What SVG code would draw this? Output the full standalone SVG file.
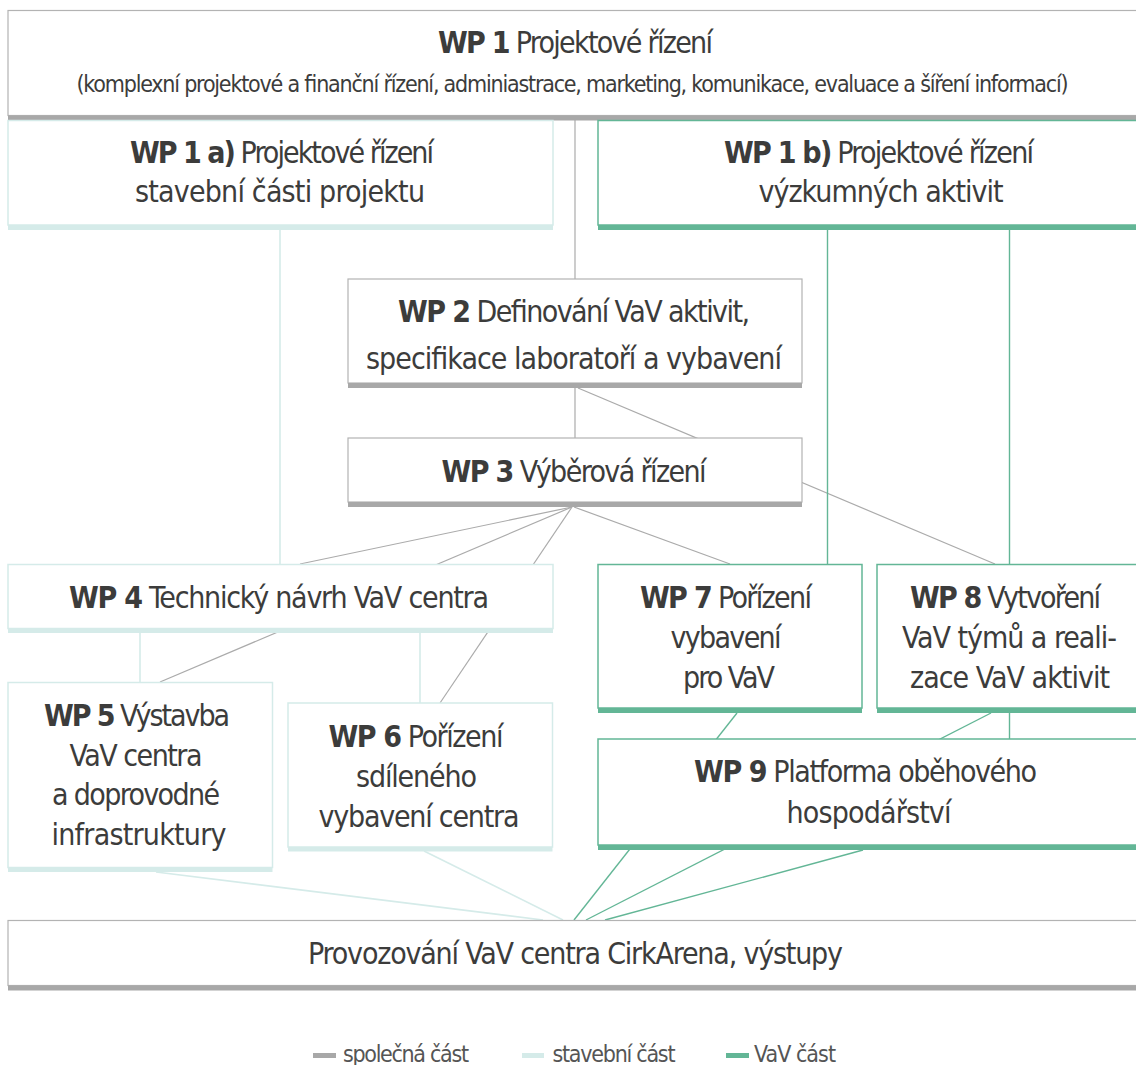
<svg xmlns="http://www.w3.org/2000/svg" width="1136" height="1065" viewBox="0 0 1136 1065">
<style>
  text { font-family: "Liberation Sans Narrow", "DejaVu Sans Condensed", "Liberation Sans", sans-serif; font-size: 30px; fill: #3c3c3b; text-anchor: middle; }
  .b { font-weight: 700; }
  .sub { font-size: 23px; }
  .lg { font-size: 23px; text-anchor: start; fill: #555555; }
  .bg { fill: #ffffff; stroke: #b3b3b3; stroke-width: 1.2; }
  .bl { fill: #ffffff; stroke: #d5ebe9; stroke-width: 1.5; }
  .bt { fill: #ffffff; stroke: #63b696; stroke-width: 1.5; }
  .sg { fill: #a8a8a8; }
  .sl { fill: #d5ebe9; }
  .st { fill: #63b696; }
  .cg { stroke: #ababab; stroke-width: 1.2; fill: none; }
  .cl { stroke: #d5ebe9; stroke-width: 1.6; fill: none; }
  .ct { stroke: #63b696; stroke-width: 1.4; fill: none; }
</style>
<rect x="0" y="0" width="1136" height="1065" fill="#ffffff"/>

<g id="connectors">
  <line class="cg" x1="575" y1="120" x2="575" y2="279"/>
  <line class="cg" x1="575" y1="388" x2="575" y2="438"/>
  <line class="cg" x1="578" y1="388" x2="995" y2="564"/>
  <line class="cg" x1="572" y1="507" x2="300" y2="564"/>
  <line class="cg" x1="572" y1="507" x2="160" y2="682"/>
  <line class="cg" x1="572" y1="507" x2="440" y2="703"/>
  <line class="cg" x1="574" y1="507" x2="730" y2="564"/>
  <line class="cl" x1="280" y1="230" x2="280" y2="564"/>
  <line class="cl" x1="140" y1="633" x2="140" y2="682"/>
  <line class="cl" x1="420" y1="633" x2="420" y2="703"/>
  <line class="cl" x1="156" y1="872" x2="543" y2="920"/>
  <line class="cl" x1="424" y1="851" x2="563" y2="920"/>
  <line class="ct" x1="827.5" y1="230" x2="827.5" y2="564"/>
  <line class="ct" x1="1009.5" y1="230" x2="1009.5" y2="564"/>
  <line class="ct" x1="1009.5" y1="713" x2="1009.5" y2="739"/>
  <line class="ct" x1="737" y1="713" x2="574" y2="920"/>
  <line class="ct" x1="991" y1="713" x2="586" y2="920"/>
  <line class="ct" x1="863" y1="850" x2="605" y2="920"/>
</g>

<g id="wp1">
  <rect class="bg" x="8" y="10.5" width="1140" height="105"/>
  <rect class="sg" x="8" y="115.5" width="1140" height="5"/>
  <text x="575.5" y="53" textLength="275" lengthAdjust="spacing"><tspan class="b">WP 1</tspan> Projektové řízení</text>
  <text class="sub" x="572.5" y="92" textLength="992" lengthAdjust="spacing">(komplexní projektové a finanční řízení, adminiastrace, marketing, komunikace, evaluace a šíření informací)</text>
</g>

<g id="wp1a">
  <rect class="bl" x="8" y="120.5" width="545" height="104.5"/>
  <rect class="sl" x="8" y="225" width="545" height="5"/>
  <text x="282" y="163" textLength="304" lengthAdjust="spacing"><tspan class="b">WP 1 a)</tspan> Projektové řízení</text>
  <text x="280" y="202" textLength="290" lengthAdjust="spacing">stavební části projektu</text>
</g>

<g id="wp1b">
  <rect class="bt" x="598" y="120.5" width="560" height="104.5"/>
  <rect class="st" x="598" y="225" width="560" height="5"/>
  <text x="879" y="163" textLength="310" lengthAdjust="spacing"><tspan class="b">WP 1 b)</tspan> Projektové řízení</text>
  <text x="881" y="202" textLength="245" lengthAdjust="spacing">výzkumných aktivit</text>
</g>

<g id="wp2">
  <rect class="bg" x="348" y="279" width="454" height="104"/>
  <rect class="sg" x="348" y="383" width="454" height="5"/>
  <text x="574" y="322" textLength="352" lengthAdjust="spacing"><tspan class="b">WP 2</tspan> Definování VaV aktivit,</text>
  <text x="574" y="369" textLength="416" lengthAdjust="spacing">specifikace laboratoří a vybavení</text>
</g>

<g id="wp3">
  <rect class="bg" x="348" y="438" width="454" height="64"/>
  <rect class="sg" x="348" y="502" width="454" height="5"/>
  <text x="574" y="482" textLength="265" lengthAdjust="spacing"><tspan class="b">WP 3</tspan> Výběrová řízení</text>
</g>

<g id="wp4">
  <rect class="bl" x="8" y="564.5" width="545" height="64"/>
  <rect class="sl" x="8" y="628.5" width="545" height="4.5"/>
  <text x="279" y="608" textLength="420" lengthAdjust="spacing"><tspan class="b">WP 4</tspan> Technický návrh VaV centra</text>
</g>

<g id="wp5">
  <rect class="bl" x="8" y="682.5" width="264.5" height="185"/>
  <rect class="sl" x="8" y="867.5" width="264.5" height="4.5"/>
  <text x="137" y="726" textLength="186" lengthAdjust="spacing"><tspan class="b">WP 5</tspan> Výstavba</text>
  <text x="136" y="765.5" textLength="133" lengthAdjust="spacing">VaV centra</text>
  <text x="136" y="805" textLength="168" lengthAdjust="spacing">a doprovodné</text>
  <text x="139" y="845" textLength="175" lengthAdjust="spacing">infrastruktury</text>
</g>

<g id="wp6">
  <rect class="bl" x="288" y="703" width="264.5" height="144"/>
  <rect class="sl" x="288" y="847" width="264.5" height="4.5"/>
  <text x="416" y="747" textLength="175" lengthAdjust="spacing"><tspan class="b">WP 6</tspan> Pořízení</text>
  <text x="416.5" y="787" textLength="121" lengthAdjust="spacing">sdíleného</text>
  <text x="419" y="827" textLength="201" lengthAdjust="spacing">vybavení centra</text>
</g>

<g id="wp7">
  <rect class="bt" x="598" y="564.5" width="264" height="143.5"/>
  <rect class="st" x="598" y="708" width="264" height="5"/>
  <text x="726" y="608" textLength="172" lengthAdjust="spacing"><tspan class="b">WP 7</tspan> Pořízení</text>
  <text x="726" y="647.5" textLength="111" lengthAdjust="spacing">vybavení</text>
  <text x="729" y="688" textLength="92" lengthAdjust="spacing">pro VaV</text>
</g>

<g id="wp8">
  <rect class="bt" x="877" y="564.5" width="265" height="143.5"/>
  <rect class="st" x="877" y="708" width="265" height="5"/>
  <text x="1005.5" y="608" textLength="191" lengthAdjust="spacing"><tspan class="b">WP 8</tspan> Vytvoření</text>
  <text x="1009.5" y="648" textLength="215" lengthAdjust="spacing">VaV týmů a reali-</text>
  <text x="1010" y="688" textLength="200" lengthAdjust="spacing">zace VaV aktivit</text>
</g>

<g id="wp9">
  <rect class="bt" x="598" y="739" width="545" height="106"/>
  <rect class="st" x="598" y="845" width="545" height="5"/>
  <text x="865.5" y="782" textLength="343" lengthAdjust="spacing"><tspan class="b">WP 9</tspan> Platforma oběhového</text>
  <text x="869" y="823" textLength="165" lengthAdjust="spacing">hospodářství</text>
</g>

<g id="output">
  <rect class="bg" x="8" y="920.5" width="1140" height="65"/>
  <rect class="sg" x="8" y="985.5" width="1140" height="5"/>
  <text x="575.5" y="964" textLength="535" lengthAdjust="spacing">Provozování VaV centra CirkArena, výstupy</text>
</g>

<g id="legend">
  <rect class="sg" x="313" y="1053" width="23" height="5"/>
  <text class="lg" x="343" y="1062" textLength="126" lengthAdjust="spacing">společná část</text>
  <rect class="sl" x="522" y="1053" width="22" height="5"/>
  <text class="lg" x="552.5" y="1062" textLength="123" lengthAdjust="spacing">stavební část</text>
  <rect class="st" x="726" y="1053" width="23" height="5"/>
  <text class="lg" x="754" y="1062" textLength="82" lengthAdjust="spacing">VaV část</text>
</g>
</svg>
